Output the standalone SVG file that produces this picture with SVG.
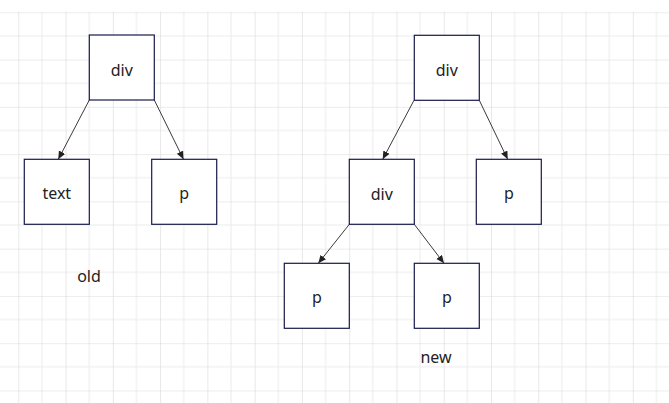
<svg xmlns="http://www.w3.org/2000/svg" width="669" height="403" viewBox="0 0 669 403">
  <style>
    .box { fill: #ffffff; stroke: #161a4a; stroke-width: 1.2; }
    .lbl { font-family: "Noto Sans", "Open Sans", sans-serif; font-size: 16px; fill: #222222; text-anchor: middle; }
    .edge { stroke: #3a3a3a; stroke-width: 1; fill: none; marker-end: url(#arrow); }
  </style>
  <defs>
    <pattern id="grid" patternUnits="userSpaceOnUse" x="18.3" y="12.3" width="47.27" height="47.27">
      <path d="M23.64,0 V47.27 M0,23.64 H47.27" stroke="#ececec" stroke-width="1" fill="none"/>
      <path d="M0,0 V47.27 M0,0 H47.27" stroke="#d9d9d9" stroke-width="1.2" fill="none"/>
    </pattern>
    <marker id="arrow" markerUnits="userSpaceOnUse" markerWidth="9" markerHeight="8" refX="8" refY="3.5" orient="auto">
      <path d="M0,0 L8,3.5 L0,7 Z" fill="#222222"/>
    </marker>
  </defs>

  <!-- background grid -->
  <rect x="0" y="0" width="669" height="403" fill="#ffffff"/>
  <rect x="0" y="11.7" width="669" height="391.3" fill="url(#grid)"/>

  <!-- connectors -->
  <g id="connectors">
    <line class="edge" x1="89.3" y1="100" x2="58.3" y2="159.3"/>
    <line class="edge" x1="154.3" y1="100" x2="183.5" y2="159.3"/>
    <line class="edge" x1="414" y1="100.3" x2="382.7" y2="159.3"/>
    <line class="edge" x1="479.3" y1="100.3" x2="507.7" y2="159.3"/>
    <line class="edge" x1="349.3" y1="224.3" x2="318.3" y2="263.3"/>
    <line class="edge" x1="414.3" y1="224.3" x2="444" y2="263.3"/>
  </g>

  <!-- old tree -->
  <g id="old-div">
    <rect class="box" x="89.3" y="35" width="65" height="65"/>
    <text class="lbl" x="121.8" y="75.5">div</text>
  </g>
  <g id="old-text">
    <rect class="box" x="24.3" y="159.3" width="65" height="65"/>
    <text class="lbl" x="56.8" y="198.5">text</text>
  </g>
  <g id="old-p">
    <rect class="box" x="151.7" y="159.3" width="65" height="65"/>
    <text class="lbl" x="184.2" y="198.5">p</text>
  </g>
  <g id="old-label">
    <text class="lbl" x="89" y="281.5">old</text>
  </g>

  <!-- new tree -->
  <g id="new-div">
    <rect class="box" x="414.3" y="35.3" width="65" height="65"/>
    <text class="lbl" x="446.8" y="75.8">div</text>
  </g>
  <g id="new-div-inner">
    <rect class="box" x="349.3" y="159.3" width="65" height="65"/>
    <text class="lbl" x="381.8" y="199.8">div</text>
  </g>
  <g id="new-p-right">
    <rect class="box" x="476.3" y="159.3" width="65" height="65"/>
    <text class="lbl" x="508.8" y="198.5">p</text>
  </g>
  <g id="new-p-left">
    <rect class="box" x="284.3" y="263.3" width="65" height="65"/>
    <text class="lbl" x="316.8" y="302.5">p</text>
  </g>
  <g id="new-p-mid">
    <rect class="box" x="414.3" y="263.3" width="65" height="65"/>
    <text class="lbl" x="446.8" y="302.5">p</text>
  </g>
  <g id="new-label">
    <text class="lbl" x="436" y="363.3">new</text>
  </g>
</svg>
